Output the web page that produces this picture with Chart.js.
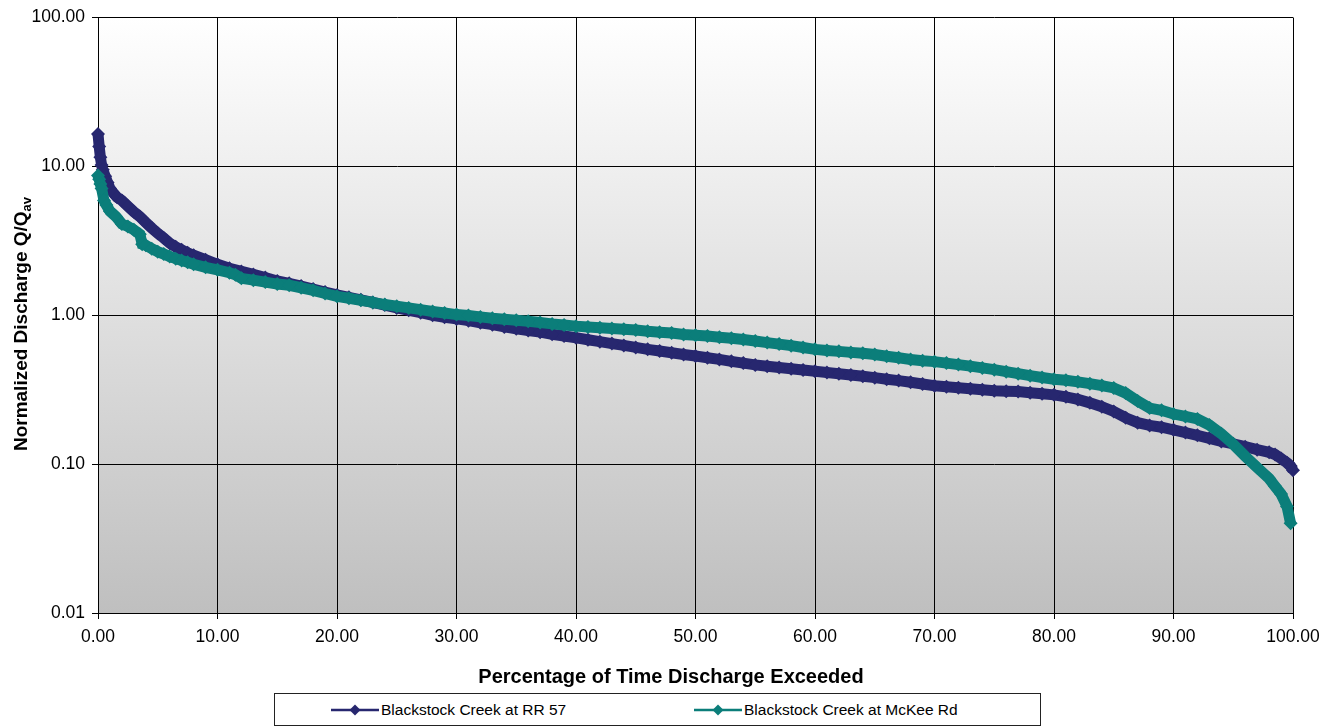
<!DOCTYPE html>
<html>
<head>
<meta charset="utf-8">
<script src="https://cdn.jsdelivr.net/npm/chart.js@4.4.1/dist/chart.umd.min.js"></script>
<style>
  html, body { margin: 0; padding: 0; background: #fff; }
  #wrap { position: relative; width: 1334px; height: 726px; overflow: hidden; }
  #c { position: absolute; left: 0; top: 0; }
  #legend { position: absolute; left: 274px; top: 693px; width: 767px; height: 33px; border: 1px solid #222; box-sizing: border-box; background: #fff; font-family: 'Liberation Sans', Arial, sans-serif; font-size: 15.5px; color: #000; }
  .item { position: absolute; top: 7px; height: 18px; display: flex; align-items: center; white-space: nowrap; }
  .item svg { margin-right: 2px; }
</style>
</head>
<body>
<div id="wrap">
  <canvas id="c" width="1334" height="726"></canvas>
  <div id="legend"></div>
</div>
<script>
// ---- Data ----
const seriesNames = ['Blackstock Creek at RR 57', 'Blackstock Creek at McKee Rd'];
const xTickValues = [0, 10, 20, 30, 40, 50, 60, 70, 80, 90, 100];
const yTickValues = [0.01, 0.1, 1, 10, 100];

const exceedPctRR57 = [0, 0.1, 0.2, 0.3, 0.4, 0.6, 0.8, 1.0, 1.3, 1.6, 2.0, 2.5, 3.0, 3.5, 4.0, 4.5, 5.0, 5.5, 6.0, 6.5, 7.0, 7.5, 8, 9,
  10, 11, 12, 13, 14, 15, 16, 17, 18, 19, 20, 21, 22, 23, 24, 25, 26, 27, 28, 29, 30, 31, 32, 33, 34, 35, 36, 37, 38, 39,
  40, 41, 42, 43, 44, 45, 46, 47, 48, 49, 50, 51, 52, 53, 54, 55, 56, 57, 58, 59, 60, 61, 62, 63, 64, 65, 66, 67, 68, 69,
  70, 71, 72, 73, 74, 75, 76, 77, 78, 79, 80, 81, 82, 83, 84, 85, 86, 87, 88, 89, 90, 91, 92, 93, 94, 95, 96, 97, 98, 98.5,
  99, 99.5, 99.8, 100];
const dischargeRR57 = [16.5, 13.6, 11.5, 10.2, 9.5, 8.6, 7.8, 7.1, 6.6, 6.2, 5.9, 5.4, 4.95, 4.6, 4.2, 3.85, 3.55, 3.3, 3.05, 2.88, 2.75, 2.63, 2.53, 2.36,
  2.2, 2.07, 1.97, 1.88, 1.79, 1.70, 1.64, 1.57, 1.5, 1.43, 1.37, 1.32, 1.27, 1.22, 1.17, 1.12, 1.08, 1.04, 1.0, 0.97, 0.945, 0.92, 0.89, 0.865, 0.835, 0.81, 0.79, 0.77, 0.745, 0.725,
  0.706, 0.685, 0.665, 0.645, 0.627, 0.608, 0.59, 0.575, 0.56, 0.545, 0.532, 0.518, 0.505, 0.49, 0.477, 0.464, 0.455, 0.446, 0.437, 0.429, 0.421, 0.413, 0.405, 0.397, 0.389, 0.381, 0.372, 0.364, 0.355, 0.345,
  0.336, 0.331, 0.326, 0.321, 0.316, 0.311, 0.309, 0.307, 0.302, 0.297, 0.292, 0.283, 0.272, 0.258, 0.243, 0.226, 0.205, 0.19, 0.182, 0.177, 0.17, 0.163, 0.156, 0.149, 0.142, 0.137, 0.131, 0.125, 0.12, 0.116,
  0.109, 0.102, 0.097, 0.091];

const exceedPctMcKee = [0, 0.1, 0.2, 0.3, 0.5, 0.7, 1.0, 1.5, 2.0, 2.5, 3.0, 3.5, 3.7, 4.0, 4.5, 5.0, 5.5, 6.0, 6.5, 7, 7.5, 8, 9,
  10, 11, 11.5, 12, 13, 14, 15, 16, 17, 18, 19, 20, 21, 22, 23, 24, 25, 26, 27, 28, 29, 30, 31, 32, 33, 34, 35, 36, 37, 38, 39,
  40, 41, 42, 43, 44, 45, 46, 47, 48, 49, 50, 51, 52, 53, 54, 55, 56, 57, 58, 59, 60, 61, 62, 63, 64, 65, 66, 67, 68, 69,
  70, 71, 72, 73, 74, 75, 76, 77, 78, 79, 80, 81, 82, 83, 84, 85, 86, 87, 88, 89, 90, 91, 92, 93, 94, 95, 96, 97, 98, 98.5,
  99, 99.5, 99.8];
const dischargeMcKee = [8.7, 8.2, 7.6, 7.1, 5.9, 5.5, 5.0, 4.6, 4.1, 3.95, 3.75, 3.5, 3.0, 2.95, 2.8, 2.67, 2.58, 2.48, 2.4, 2.33, 2.27, 2.2, 2.1,
  2.02, 1.93, 1.87, 1.77, 1.72, 1.67, 1.62, 1.59, 1.53, 1.47, 1.4, 1.34, 1.3, 1.26, 1.22, 1.18, 1.15, 1.12, 1.09, 1.06, 1.035, 1.01, 0.995, 0.975, 0.955, 0.94, 0.925, 0.91, 0.895, 0.875, 0.86,
  0.845, 0.835, 0.825, 0.815, 0.805, 0.795, 0.78, 0.77, 0.76, 0.742, 0.735, 0.725, 0.712, 0.7, 0.687, 0.672, 0.655, 0.64, 0.625, 0.607, 0.59, 0.58, 0.572, 0.563, 0.555, 0.545, 0.53, 0.518, 0.505, 0.495,
  0.488, 0.477, 0.466, 0.455, 0.443, 0.431, 0.418, 0.405, 0.393, 0.382, 0.372, 0.366, 0.357, 0.347, 0.337, 0.325, 0.30, 0.265, 0.238, 0.23, 0.217, 0.209, 0.201, 0.183, 0.16, 0.136, 0.113, 0.095, 0.08, 0.071,
  0.063, 0.052, 0.04];

const colorRR57 = '#27276f';
const colorMcKee = '#0b7e7a';
const FONT = "'Liberation Sans', Arial, sans-serif";

function pairs(xs, ys) { return xs.map((x, i) => ({ x: x, y: ys[i] })); }

// ---- Plugins ----
const plotBackground = {
  id: 'plotBackground',
  beforeDraw(chart) {
    const a = chart.chartArea, ctx = chart.ctx;
    const g = ctx.createLinearGradient(0, a.top, 0, a.bottom);
    g.addColorStop(0, '#ffffff');
    g.addColorStop(1, '#bfbfbf');
    ctx.save();
    ctx.fillStyle = g;
    ctx.fillRect(a.left, a.top, a.right - a.left, a.bottom - a.top);
    ctx.restore();
  }
};

const axisTitles = {
  id: 'axisTitles',
  afterDraw(chart) {
    const ctx = chart.ctx;
    ctx.save();
    ctx.fillStyle = '#000';
    // x title
    ctx.font = 'bold 20px ' + FONT;
    ctx.textAlign = 'center';
    ctx.textBaseline = 'alphabetic';
    ctx.fillText('Percentage of Time Discharge Exceeded', 671, 683);
    // y title with subscript
    const main = 'Normalized Discharge Q/Q';
    const sub = 'av';
    ctx.font = 'bold 19px ' + FONT;
    const w1 = ctx.measureText(main).width;
    ctx.font = 'bold 13px ' + FONT;
    const w2 = ctx.measureText(sub).width;
    const total = w1 + w2;
    ctx.translate(27, 324);
    ctx.rotate(-Math.PI / 2);
    ctx.textAlign = 'left';
    ctx.font = 'bold 19px ' + FONT;
    ctx.fillText(main, -total / 2, 0);
    ctx.font = 'bold 13px ' + FONT;
    ctx.fillText(sub, -total / 2 + w1, 4);
    ctx.restore();
  }
};

new Chart(document.getElementById('c'), {
  type: 'line',
  data: {
    datasets: [
      {
        label: seriesNames[0],
        data: pairs(exceedPctRR57, dischargeRR57),
        borderColor: colorRR57,
        backgroundColor: colorRR57,
        pointBackgroundColor: colorRR57,
        pointBorderColor: colorRR57,
        borderWidth: 11,
        pointStyle: 'rectRot',
        pointRadius: 7,
        pointBorderWidth: 0,
        tension: 0,
        clip: false,
        order: 1
      },
      {
        label: seriesNames[1],
        data: pairs(exceedPctMcKee, dischargeMcKee),
        borderColor: colorMcKee,
        backgroundColor: colorMcKee,
        pointBackgroundColor: colorMcKee,
        pointBorderColor: colorMcKee,
        borderWidth: 11,
        pointStyle: 'rectRot',
        pointRadius: 7,
        pointBorderWidth: 0,
        tension: 0,
        clip: false,
        order: 0
      }
    ]
  },
  options: {
    responsive: false,
    animation: false,
    devicePixelRatio: 1,
    layout: { padding: { left: 0, top: 14, right: 41, bottom: 0 } },
    plugins: {
      legend: { display: false },
      tooltip: { enabled: false },
      title: { display: false }
    },
    scales: {
      x: {
        type: 'linear',
        min: 0,
        max: 100,
        afterBuildTicks(scale) { scale.ticks = xTickValues.map(v => ({ value: v })); },
        afterFit(scale) { scale.height = 113; },
        ticks: {
          callback: v => Number(v).toFixed(2),
          color: '#000',
          font: { family: FONT, size: 17.5 },
          padding: 8,
          maxRotation: 0,
          autoSkip: false
        },
        grid: { color: '#000', lineWidth: 1, drawTicks: true, tickLength: 6, tickColor: '#000' },
        border: { display: true, color: '#000', width: 1 }
      },
      y: {
        type: 'logarithmic',
        min: 0.01,
        max: 100,
        afterBuildTicks(scale) { scale.ticks = yTickValues.map(v => ({ value: v })); },
        afterFit(scale) { scale.width = 98; },
        ticks: {
          callback: v => Number(v).toFixed(2),
          color: '#000',
          font: { family: FONT, size: 17.5 },
          padding: 7,
          autoSkip: false
        },
        grid: { color: '#000', lineWidth: 1, drawTicks: true, tickLength: 6, tickColor: '#000' },
        border: { display: true, color: '#000', width: 1 }
      }
    }
  },
  plugins: [plotBackground, axisTitles]
});

// ---- HTML legend ----
const legend = document.getElementById('legend');
const legendItems = [
  { name: seriesNames[0], color: colorRR57, left: 56 },
  { name: seriesNames[1], color: colorMcKee, left: 419 }
];
legendItems.forEach(it => {
  const d = document.createElement('div');
  d.className = 'item';
  d.style.left = it.left + 'px';
  d.innerHTML = '<svg width="48" height="14" viewBox="0 0 48 14">' +
    '<line x1="0" y1="7" x2="48" y2="7" stroke="' + it.color + '" stroke-width="2.5"/>' +
    '<polygon points="24,1.5 29.5,7 24,12.5 18.5,7" fill="' + it.color + '"/></svg>' +
    '<span>' + it.name + '</span>';
  legend.appendChild(d);
});
</script>
</body>
</html>
